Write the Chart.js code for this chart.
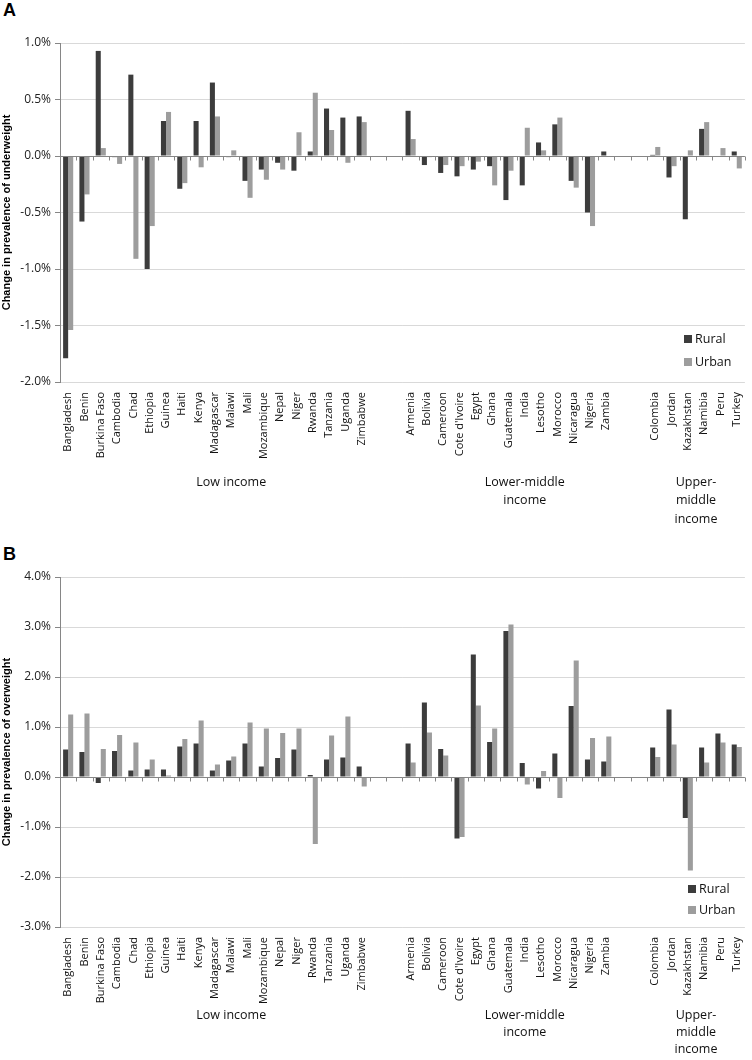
<!DOCTYPE html>
<html>
<head>
<meta charset="utf-8">
<script src="https://cdn.jsdelivr.net/npm/chart.js@4.4.1/dist/chart.umd.min.js"></script>
<style>
    body { margin: 0; background: #fff; width: 752px; height: 1060px; position: relative; overflow: hidden; }
    .panel { position: absolute; left: 0; }
    .tag { position: absolute; left: 3px; font: bold 18px "Liberation Sans", Arial, sans-serif; color: #000; }
</style>
</head>
<body>
<div class="tag" style="top:0px">A</div>
<div class="tag" style="top:544px">B</div>
<canvas id="underChart" class="panel" style="top:0" width="752" height="535"></canvas>
<canvas id="overChart" class="panel" style="top:535px" width="752" height="525"></canvas>
<script>
const countries = [
    "Bangladesh", "Benin", "Burkina Faso", "Cambodia", "Chad", "Ethiopia", "Guinea", "Haiti", "Kenya",
    "Madagascar", "Malawi", "Mali", "Mozambique", "Nepal", "Niger", "Rwanda", "Tanzania", "Uganda", "Zimbabwe",
    "", "",
    "Armenia", "Bolivia", "Cameroon", "Cote d'Ivoire", "Egypt", "Ghana", "Guatemala", "India", "Lesotho",
    "Morocco", "Nicaragua", "Nigeria", "Zambia",
    "", "",
    "Colombia", "Jordan", "Kazakhstan", "Namibia", "Peru", "Turkey"
];

// income groups: first and last category index (blank slots belong to the group before)
const groupNames = [["Low income"], ["Lower-middle", "income"], ["Upper-", "middle", "income"]];
const groupRanges = [[0, 20], [21, 35], [36, 41]];

// change in prevalence (%), panel A: underweight
const underRural = [-1.79, -0.58, 0.93, -0.01, 0.72, -1.00, 0.31, -0.29, 0.31, 0.65, -0.01, -0.22, -0.12, -0.06, -0.13, 0.04, 0.42, 0.34, 0.35,
    null, null,
    0.40, -0.08, -0.15, -0.18, -0.12, -0.09, -0.39, -0.26, 0.12, 0.28, -0.22, -0.50, 0.04,
    null, null,
    0.01, -0.19, -0.56, 0.24, 0.00, 0.04];
const underUrban = [-1.54, -0.34, 0.07, -0.07, -0.91, -0.62, 0.39, -0.24, -0.10, 0.35, 0.05, -0.37, -0.21, -0.12, 0.21, 0.56, 0.23, -0.06, 0.30,
    null, null,
    0.15, -0.01, -0.08, -0.09, -0.05, -0.26, -0.13, 0.25, 0.05, 0.34, -0.28, -0.62, 0.00,
    null, null,
    0.08, -0.09, 0.05, 0.30, 0.07, -0.11];

// panel B: overweight
const overRural = [0.55, 0.50, -0.12, 0.52, 0.13, 0.15, 0.15, 0.61, 0.67, 0.13, 0.33, 0.67, 0.21, 0.38, 0.55, 0.04, 0.35, 0.39, 0.21,
    null, null,
    0.67, 1.49, 0.56, -1.23, 2.45, 0.70, 2.92, 0.28, -0.23, 0.47, 1.42, 0.35, 0.31,
    null, null,
    0.59, 1.35, -0.82, 0.59, 0.87, 0.65];
const overUrban = [1.25, 1.27, 0.56, 0.84, 0.69, 0.35, 0.03, 0.76, 1.13, 0.25, 0.41, 1.09, 0.97, 0.88, 0.97, -1.34, 0.83, 1.21, -0.19,
    null, null,
    0.29, 0.89, 0.43, -1.20, 1.43, 0.97, 3.05, -0.15, 0.12, -0.42, 2.33, 0.78, 0.81,
    null, null,
    0.40, 0.65, -1.87, 0.29, 0.69, 0.60];

const RURAL = "#3c3c3c";
const URBAN = "#9d9d9d";
const AXIS = "#868686";
const FONT = "'Open Sans', sans-serif";

// category axis crossing at zero, with small ticks between categories
const zeroAxis = {
    id: "zeroAxis",
    afterDatasetsDraw(chart) {
        const y = chart.scales.y, a = chart.chartArea;
        const y0 = Math.round(y.getPixelForValue(0)) + 0.5;
        const ctx = chart.ctx;
        ctx.save();
        ctx.strokeStyle = AXIS;
        ctx.lineWidth = 1;
        ctx.beginPath();
        ctx.moveTo(a.left, y0);
        ctx.lineTo(a.right, y0);
        const n = chart.data.labels.length;
        const step = (a.right - a.left) / n;
        for (let i = 0; i <= n; i++) {
            const px = Math.round(a.left + i * step) + 0.5;
            ctx.moveTo(px, y0);
            ctx.lineTo(px, y0 + 4);
        }
        ctx.stroke();
        ctx.restore();
    }
};

// income group names under the country labels, plus the legend box
const extras = {
    id: "extras",
    afterDraw(chart, args, opts) {
        const x = chart.scales.x, a = chart.chartArea, ctx = chart.ctx;
        ctx.save();
        ctx.fillStyle = "#111";
        ctx.font = "12.5px " + FONT;
        ctx.textAlign = "center";
        ctx.textBaseline = "middle";
        groupRanges.forEach((r, i) => {
            const cx = (x.getPixelForValue(r[0]) + x.getPixelForValue(r[1])) / 2;
            groupNames[i].forEach((line, j) => {
                ctx.fillText(line, cx, a.bottom + opts.groupOffset + j * opts.lineGap);
            });
        });
        ctx.textAlign = "left";
        ctx.font = "12.5px " + FONT;
        chart.data.datasets.forEach((ds, i) => {
            const ly = opts.legendY[i];
            ctx.fillStyle = ds.backgroundColor;
            ctx.fillRect(opts.legendX, ly - 4, 8, 8);
            ctx.fillStyle = "#111";
            ctx.fillText(ds.label, opts.legendX + 11, ly);
        });
        ctx.restore();
    }
};

function makeChart(id, rural, urban, yMin, yMax, step, title, plotTop, xHeight, extraOpts) {
    return new Chart(document.getElementById(id), {
        type: "bar",
        data: {
            labels: countries,
            datasets: [
                { label: "Rural", data: rural, backgroundColor: RURAL },
                { label: "Urban", data: urban, backgroundColor: URBAN }
            ]
        },
        options: {
            responsive: false,
            animation: false,
            devicePixelRatio: 1,
            layout: { padding: { top: plotTop, right: 4, left: 0, bottom: 0 } },
            datasets: { bar: { categoryPercentage: 0.62, barPercentage: 1.0 } },
            plugins: {
                legend: { display: false },
                tooltip: { enabled: false },
                extras: extraOpts
            },
            scales: {
                x: {
                    grid: { display: false },
                    border: { display: false },
                    ticks: {
                        autoSkip: false, minRotation: 90, maxRotation: 90, padding: 2,
                        color: "#111", font: { family: FONT, size: 11 }
                    },
                    afterFit(scale) { scale.height = xHeight; }
                },
                y: {
                    min: yMin,
                    max: yMax,
                    ticks: {
                        stepSize: step, padding: 4, color: "#222",
                        font: { family: FONT, size: 12 },
                        callback: v => v.toFixed(1) + "%"
                    },
                    grid: { color: "#d9d9d9", tickColor: AXIS, tickLength: 5 },
                    border: { color: AXIS },
                    title: {
                        display: true, text: title, color: "#000", padding: 0,
                        font: { family: "'Liberation Sans', Arial, sans-serif", size: 11, weight: "bold" }
                    },
                    afterFit(scale) { scale.width = 60; }
                }
            }
        },
        plugins: [zeroAxis, extras]
    });
}

makeChart("underChart", underRural, underUrban, -2, 1, 0.5,
    "Change in prevalence of underweight", 43, 153,
    { groupOffset: 100, lineGap: 18.5, legendX: 684, legendY: [339, 362] });

makeChart("overChart", overRural, overUrban, -3, 4, 1,
    "Change in prevalence of overweight", 42, 133,
    { groupOffset: 88, lineGap: 17, legendX: 688, legendY: [354, 375] });
</script>
</body>
</html>
